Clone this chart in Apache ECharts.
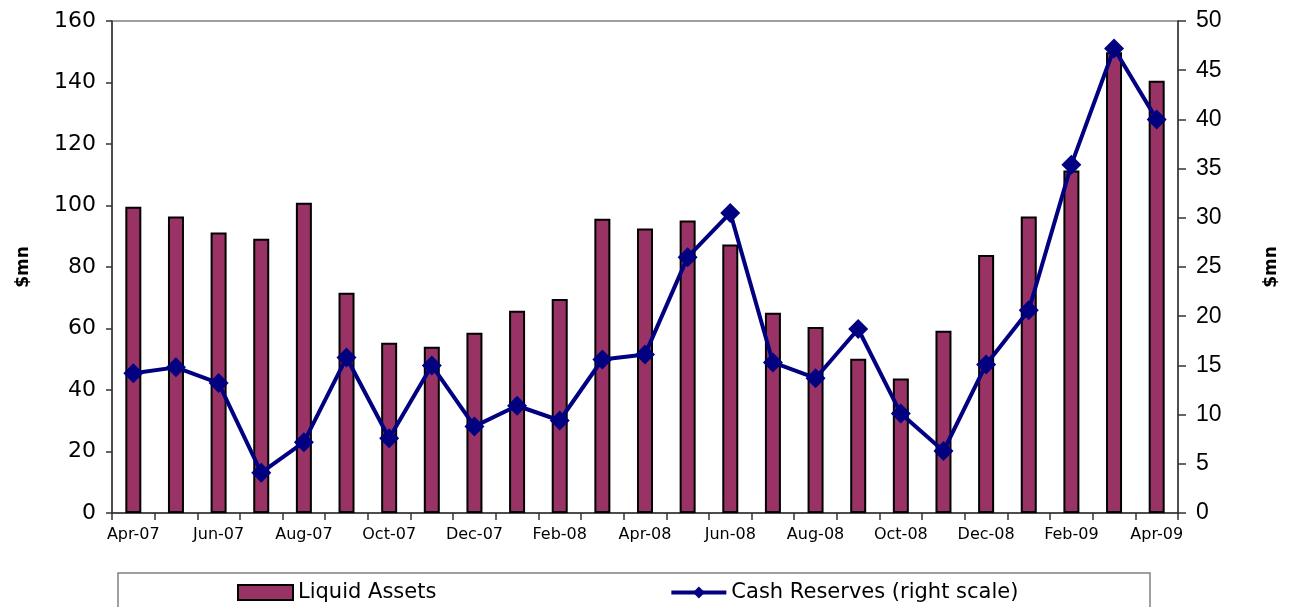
<!DOCTYPE html>
<html>
<head>
<meta charset="utf-8">
<script src="https://cdn.jsdelivr.net/npm/echarts@6/dist/echarts.min.js"></script>
<style>html,body{margin:0;padding:0;background:#fff;}#c{width:1291px;height:607px;}</style>
</head>
<body>
<div id="c"></div>
<script>
const months = ['Apr-07','May-07','Jun-07','Jul-07','Aug-07','Sep-07','Oct-07','Nov-07','Dec-07','Jan-08','Feb-08','Mar-08','Apr-08','May-08','Jun-08','Jul-08','Aug-08','Sep-08','Oct-08','Nov-08','Dec-08','Jan-09','Feb-09','Mar-09','Apr-09'];
const liquidAssets = [99.6,96.4,91.2,89.2,100.9,71.6,55.4,54.1,58.6,65.8,69.6,95.7,92.5,95.1,87.3,65.1,60.5,50.2,43.7,59.3,83.9,96.4,111.4,149.8,140.6];
const cashReserves = [14.2,14.8,13.2,4.1,7.2,15.8,7.6,15.0,8.8,10.9,9.4,15.6,16.1,26.0,30.5,15.3,13.7,18.7,10.1,6.3,15.1,20.6,35.4,47.2,40.0];
const leftTicks = {min:0,max:160,interval:20};
const rightTicks = {min:0,max:50,interval:5};

const chart = echarts.init(document.getElementById('c'), null, {renderer:'canvas'});
chart.setOption({
  animation:false,
  backgroundColor:'#fff',
  textStyle:{fontFamily:'DejaVu Sans'},
  grid:{left:112,right:113,top:21,bottom:94,show:true,borderColor:'#808080',borderWidth:1.5},
  graphic:[{type:'rect',shape:{x:118,y:573,width:1032,height:60},style:{fill:'none',stroke:'#808080',lineWidth:1.5},silent:true}],
  legend:{
    left:232, top:577, itemGap:233, itemWidth:55, itemHeight:15,
    textStyle:{fontSize:21,color:'#000',fontFamily:'DejaVu Sans'},
    data:[
      {name:'Liquid Assets',icon:'rect',itemStyle:{color:'#993366',borderColor:'#000',borderWidth:2}},
      {name:'Cash Reserves (right scale)',lineStyle:{width:4,color:'#000080'},itemStyle:{color:'#000080'}}
    ]
  },
  xAxis:{
    type:'category', data:months, boundaryGap:true,
    axisLine:{lineStyle:{color:'#333',width:1.5}},
    axisTick:{show:true,interval:0,length:7,lineStyle:{color:'#333',width:1.5}},
    axisLabel:{interval:1,color:'#000',fontSize:16,margin:14,fontFamily:'DejaVu Sans'}
  },
  yAxis:[
    {type:'value',min:leftTicks.min,max:leftTicks.max,interval:leftTicks.interval,
     name:'$mn',nameLocation:'middle',nameGap:80,nameRotate:90,
     nameTextStyle:{fontSize:17,fontWeight:'bold',color:'#000',fontFamily:'DejaVu Sans'},
     axisLine:{show:true,lineStyle:{color:'#333',width:1.5}},
     axisTick:{show:true,length:6,lineStyle:{color:'#333',width:1.5}},
     splitLine:{show:false},
     axisLabel:{color:'#000',fontSize:22,margin:16,fontFamily:'DejaVu Sans'}},
    {type:'value',min:rightTicks.min,max:rightTicks.max,interval:rightTicks.interval,position:'right',
     name:'$mn',nameLocation:'middle',nameGap:85,nameRotate:90,
     nameTextStyle:{fontSize:17,fontWeight:'bold',color:'#000',fontFamily:'DejaVu Sans'},
     axisLine:{show:true,lineStyle:{color:'#333',width:1.5}},
     axisTick:{show:true,length:8,lineStyle:{color:'#333',width:1.5}},
     splitLine:{show:false},
     axisLabel:{color:'#000',fontSize:23,margin:18,fontFamily:'Liberation Sans'}}
  ],
  series:[
    {name:'Liquid Assets',type:'bar',data:liquidAssets,barWidth:16,yAxisIndex:0,
     itemStyle:{color:'#993366',borderColor:'#000',borderWidth:2}},
    {name:'Cash Reserves (right scale)',type:'line',data:cashReserves,yAxisIndex:1,
     symbol:'diamond',symbolSize:20,
     lineStyle:{color:'#000080',width:4},
     itemStyle:{color:'#000080'}}
  ]
});
</script>
</body>
</html>
